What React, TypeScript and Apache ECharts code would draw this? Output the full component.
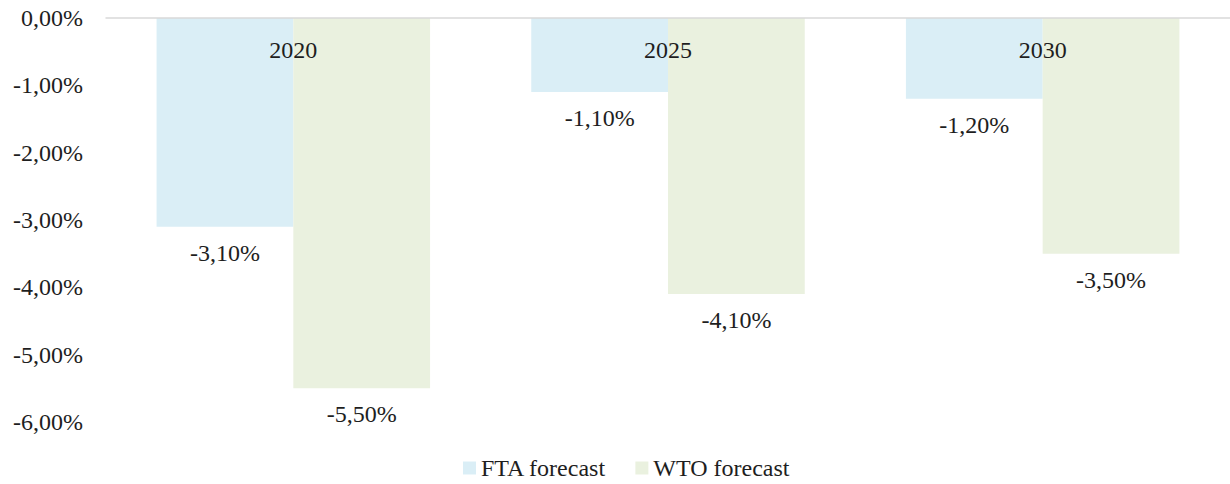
import React, { useEffect, useRef } from "react";
import * as echarts from "echarts";

const categories = ["2020", "2025", "2030"];
const ftaValues = [-3.1, -1.1, -1.2];
const wtoValues = [-5.5, -4.1, -3.5];
const yTicks = { min: -6, max: 0, interval: 1 };

const FONT = "'Liberation Serif', 'Times New Roman', serif";
const TEXT = "#1e1e1e";
const fmt = (v: number) => v.toFixed(2).replace(".", ",") + "%";

export default function App() {
  const ref = useRef<HTMLDivElement>(null);
  useEffect(() => {
    if (!ref.current) return;
    const chart = echarts.init(ref.current, undefined, { renderer: "svg" });
    const labelStyle = {
      show: true,
      position: "bottom" as const,
      distance: 14,
      formatter: (p: any) => fmt(p.value),
      fontFamily: FONT,
      fontSize: 24,
      color: TEXT,
    };
    chart.setOption({
      animation: false,
      textStyle: { fontFamily: FONT },
      grid: { left: 106, right: -4, top: 18, bottom: 62, containLabel: false },
      legend: {
        left: 458,
        top: 451,
        itemWidth: 13,
        itemHeight: 13,
        itemGap: 29,
        icon: "rect",
        textStyle: { fontFamily: FONT, fontSize: 24, color: TEXT },
        data: ["FTA forecast", "WTO forecast"],
      },
      xAxis: {
        type: "category",
        position: "top",
        data: categories,
        axisLine: { show: true, onZero: false, lineStyle: { color: "#D9D9D9", width: 1.5 } },
        axisTick: { show: false },
        axisLabel: { inside: true, margin: 20, fontFamily: FONT, fontSize: 24, color: TEXT },
        z: 10,
      },
      yAxis: {
        type: "value",
        min: yTicks.min,
        max: yTicks.max,
        interval: yTicks.interval,
        splitLine: { show: false },
        axisLine: { show: false },
        axisTick: { show: false },
        axisLabel: {
          margin: 23,
          formatter: (v: number) => fmt(v),
          fontFamily: FONT,
          fontSize: 24,
          color: TEXT,
        },
      },
      series: [
        {
          name: "FTA forecast",
          type: "bar",
          data: ftaValues,
          barGap: "0%",
          barCategoryGap: "27%",
          itemStyle: { color: "#DAEEF6" },
          label: labelStyle,
        },
        {
          name: "WTO forecast",
          type: "bar",
          data: wtoValues,
          barGap: "0%",
          barCategoryGap: "27%",
          itemStyle: { color: "#EAF1DF" },
          label: labelStyle,
        },
      ],
    });
    return () => chart.dispose();
  }, []);
  return (
    <div
      ref={ref}
      style={{ position: "absolute", left: 0, top: 0, width: 1230, height: 484, background: "#fff" }}
    />
  );
}
